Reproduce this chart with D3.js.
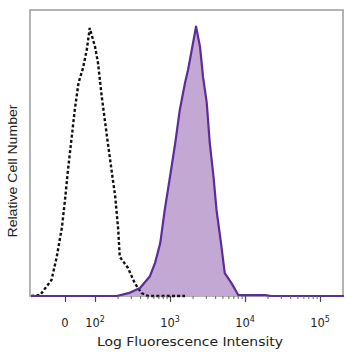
<!DOCTYPE html>
<html><head><meta charset="utf-8">
<script src="https://cdn.jsdelivr.net/npm/d3@7"></script>
<style>html,body{margin:0;padding:0;background:#fff;}</style>
</head><body>
<svg id="c" width="358" height="358"></svg>
<script>
// x positions are in display "decades" (logicle-like): 2 = 10^2, 3 = 10^3 ...
const isoU = [1.15,1.27,1.42,1.49,1.56,1.60,1.64,1.69,1.73,1.78,1.84,1.89,1.93,2.00,2.04,2.09,2.16,2.22,2.27,2.31,2.33,2.44,2.53,2.62,2.71,3.20];
const isoV = [0,0.4,5.6,13.7,24.2,33.6,44.1,55.7,65.0,74.5,79.7,86.0,93.7,87.2,81.5,69.7,55.7,44.1,34.7,23.1,13.7,9.8,4.5,1.0,0,0];
const stainU = [1.147,2.29,2.47,2.60,2.73,2.80,2.87,2.93,3.00,3.07,3.13,3.20,3.24,3.29,3.347,3.40,3.44,3.49,3.53,3.58,3.62,3.68,3.73,3.82,3.91,3.98,4.27,4.35,5.32];
const stainV = [0,0,1.2,2.8,6.8,11.5,18.5,30.1,41.7,53.5,65.0,74.5,79.0,86.0,94.2,87.2,76.7,67.5,53.5,41.7,30.1,18.5,8.0,4.5,0.35,0.3,0.3,0,0];
const tickLabels = ["0","10","10","10","10"];
const tickExps = ["","2","3","4","5"];
const tickU = [1.6,2,3,4,5];
const minorU = [];
[[2,3],[3,4],[4,5]].forEach(([a,b])=>{ for(let m=2;m<=9;m++){ minorU.push(a+Math.log10(m)); } });

const svg = d3.select("#c");
const L=30, R=343, T=10, B=296;
const x = d3.scaleLinear().domain([3-(170-L)/75, 3+(R-170)/75]).range([L,R]);
const y = d3.scaleLinear().domain([0,100]).range([B, B-286]);

svg.append("rect").attr("x",L).attr("y",T).attr("width",R-L).attr("height",B-T)
  .attr("fill","none").attr("stroke","#9a9a9a").attr("stroke-width",1.5);

const area = d3.area().x(d=>x(d[0])).y0(y(0)).y1(d=>y(d[1]));
const line = d3.line().x(d=>x(d[0])).y(d=>y(d[1]));
const stain = stainU.map((u,i)=>[u,stainV[i]]);
const iso = isoU.map((u,i)=>[u,isoV[i]]);

svg.append("path").datum(stain).attr("d",area).attr("fill","#c4a8d4");
svg.append("path").datum(iso).attr("d",line).attr("fill","none")
  .attr("stroke","#111").attr("stroke-width",2.4).attr("stroke-dasharray","3,2.2");
svg.append("path").datum(stain).attr("d",line).attr("fill","none")
  .attr("stroke","#5a2d98").attr("stroke-width",2.2).attr("stroke-linejoin","round");

const ax = svg.append("g").attr("transform",`translate(0,${B})`);
ax.call(d3.axisBottom(x).tickValues(tickU).tickFormat("").tickSize(6).tickSizeOuter(0));
ax.select(".domain").remove();
ax.selectAll(".tick line").attr("stroke","#444").attr("stroke-width",1.2);
const ax2 = svg.append("g").attr("transform",`translate(0,${B})`);
ax2.call(d3.axisBottom(x).tickValues(minorU).tickFormat("").tickSize(3).tickSizeOuter(0));
ax2.select(".domain").remove();
ax2.selectAll(".tick line").attr("stroke","#666").attr("stroke-width",1);

const lab = svg.append("g").attr("font-family","DejaVu Sans, sans-serif").attr("fill","#222");
tickU.forEach((u,i)=>{
  const t = lab.append("text").attr("x",x(u)).attr("y",327).attr("text-anchor","middle").attr("font-size",11.5);
  t.append("tspan").text(tickLabels[i]);
  if(tickExps[i]) t.append("tspan").attr("font-size",8).attr("dy",-5).text(tickExps[i]);
});

svg.append("text").attr("x",190).attr("y",346).attr("text-anchor","middle")
  .attr("font-family","DejaVu Sans, sans-serif").attr("font-size",13).attr("fill","#222")
  .attr("textLength",186).attr("lengthAdjust","spacingAndGlyphs")
  .text("Log Fluorescence Intensity");
svg.append("text").attr("transform","translate(17,171) rotate(-90)").attr("text-anchor","middle")
  .attr("font-family","Liberation Sans, Arial, sans-serif").attr("font-size",12.5).attr("fill","#222")
  .attr("textLength",133).attr("lengthAdjust","spacingAndGlyphs")
  .text("Relative Cell Number");
</script>
</body></html>
